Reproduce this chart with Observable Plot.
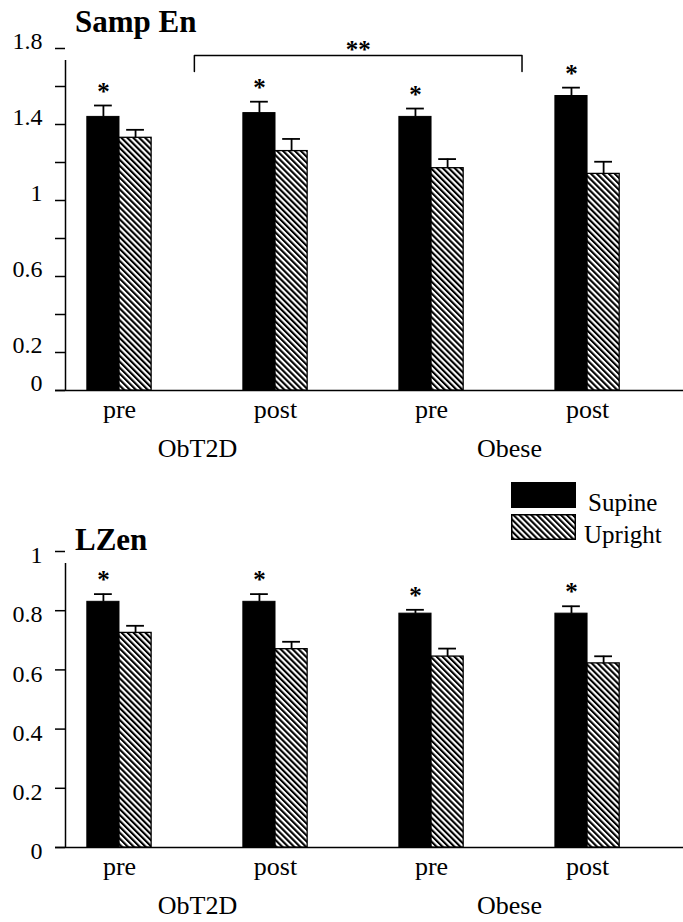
<!DOCTYPE html>
<html>
<head>
<meta charset="utf-8">
<script src="https://cdn.jsdelivr.net/npm/d3@7"></script>
<script src="https://cdn.jsdelivr.net/npm/@observablehq/plot@0.6"></script>
<style>
  body { margin: 0; background: #fff; }
  #wrap { position: relative; width: 683px; height: 922px; overflow: hidden;
          font-family: "Liberation Serif", "Times New Roman", serif; color: #000; }
  #wrap svg, #wrap svg text { font-family: "Liberation Serif", "Times New Roman", serif; }
  .panel { position: absolute; left: 0; }
  .title { position: absolute; font-weight: bold; font-size: 31px; line-height: 31px; white-space: nowrap; }
  .legtext { position: absolute; font-size: 25px; line-height: 25px; white-space: nowrap; }
  .legsw { position: absolute; }
</style>
</head>
<body>
<div id="wrap"></div>
<script>
// ---------- data ----------
const periods = ["pre", "post", "pre", "post"];
const periodGroup = ["ObT2D", "ObT2D", "Obese", "Obese"];
const groups = ["ObT2D", "Obese"];
const series = ["Supine", "Upright"];

// Samp En
const sampEnSupine = [1.44, 1.46, 1.44, 1.55];
const sampEnSupineErr = [0.06, 0.06, 0.044, 0.044];
const sampEnUpright = [1.33, 1.26, 1.17, 1.14];
const sampEnUprightErr = [0.042, 0.064, 0.048, 0.064];
const sampEnSig = ["*", "*", "*", "*"];
const sampEnTicks = [0, 0.2, 0.4, 0.6, 0.8, 1, 1.2, 1.4, 1.6, 1.8];
const sampEnTickLabels = [0, 0.2, 0.6, 1, 1.4, 1.8];
const sampEnBracket = [{from: 0.48, to: 2.58, top: 1.763, foot: 1.679, label: "**"}];

// LZen
const lzenSupine = [0.83, 0.83, 0.79, 0.79];
const lzenSupineErr = [0.026, 0.026, 0.013, 0.025];
const lzenUpright = [0.725, 0.67, 0.645, 0.622];
const lzenUprightErr = [0.024, 0.025, 0.027, 0.024];
const lzenSig = ["*", "*", "*", "*"];
const lzenTicks = [0, 0.2, 0.4, 0.6, 0.8, 1];
const lzenTickLabels = [0, 0.2, 0.4, 0.6, 0.8, 1];

// ---------- layout constants ----------
const W = 683;
const HW = 0.206;      // bar width in group units
const CAP = 0.057;     // half cap width
const xDomain = [-0.346, 3.615];
const FONT = "'Liberation Serif', 'Times New Roman', serif";

function hatchDefs(id) {
  const ns = "http://www.w3.org/2000/svg";
  const defs = document.createElementNS(ns, "defs");
  const pat = document.createElementNS(ns, "pattern");
  pat.setAttribute("id", id);
  pat.setAttribute("patternUnits", "userSpaceOnUse");
  pat.setAttribute("width", "4.2");
  pat.setAttribute("height", "4.2");
  pat.setAttribute("patternTransform", "rotate(-45)");
  const bg = document.createElementNS(ns, "rect");
  bg.setAttribute("width", "4.2"); bg.setAttribute("height", "4.2"); bg.setAttribute("fill", "#fff");
  const st = document.createElementNS(ns, "rect");
  st.setAttribute("width", "2.1"); st.setAttribute("height", "4.2"); st.setAttribute("fill", "#000");
  pat.appendChild(bg); pat.appendChild(st);
  defs.appendChild(pat);
  return defs;
}

function makeChart(cfg) {
  const rows = [];
  periods.forEach((p, i) => {
    rows.push({i, series: "Supine", value: cfg.supine[i], err: cfg.supineErr[i], sig: cfg.sig[i]});
    rows.push({i, series: "Upright", value: cfg.upright[i], err: cfg.uprightErr[i], sig: ""});
  });
  const sup = rows.filter(d => d.series === "Supine");
  const upr = rows.filter(d => d.series === "Upright");
  const cx = d => d.i + (d.series === "Supine" ? -HW / 2 : HW / 2);
  const yMax = cfg.yDomain[1];
  const txt = {fill: "#000", fontFamily: FONT};

  const marks = [
    // axis lines
    Plot.ruleX([xDomain[0]], {y1: 0, y2: yMax, insetBottom: -12, stroke: "#000", strokeWidth: 1.5}),
    Plot.ruleY([0], {insetLeft: -10, stroke: "#000", strokeWidth: 1.5}),
    Plot.axisY({ticks: cfg.ticks, tickSize: 10, tickFormat: () => "", stroke: "#000", strokeWidth: 1.5}),
    Plot.text(cfg.tickLabels, {x: xDomain[0], y: d => d, text: d => String(d), textAnchor: "end",
      dx: -23, dy: cfg.labelDy, fontSize: 24, ...txt}),
    // bars
    Plot.rectY(sup, {x1: d => d.i - HW, x2: d => d.i, y1: 0, y2: "value", fill: "#000", stroke: "#000", strokeWidth: 1}),
    Plot.rectY(upr, {x1: d => d.i, x2: d => d.i + HW, y1: 0, y2: "value", fill: `url(#${cfg.pid})`, stroke: "#000", strokeWidth: 1.3}),
    // error bars
    Plot.ruleX(rows, {x: cx, y1: "value", y2: d => d.value + d.err, stroke: "#000", strokeWidth: 1.8}),
    Plot.ruleY(rows, {y: d => d.value + d.err, x1: d => cx(d) - CAP, x2: d => cx(d) + CAP, stroke: "#000", strokeWidth: 1.8}),
    // significance
    Plot.text(sup, {x: cx, y: d => d.value + d.err, text: "sig", dy: -14, fontSize: 25, fontWeight: "bold", ...txt}),
    // x labels
    Plot.text(periods, {x: (d, i) => i, text: d => d, frameAnchor: "bottom", lineAnchor: "bottom", dy: 27, fontSize: 26, ...txt}),
    Plot.text(groups, {x: g => d3.mean(periods.map((p, i) => i).filter(i => periodGroup[i] === g)),
      text: d => d, frameAnchor: "bottom", lineAnchor: "bottom", dy: 66, fontSize: 26, ...txt})
  ];
  if (cfg.bracket) {
    const pts = cfg.bracket.flatMap(b => [
      {x: b.from, y: b.foot}, {x: b.from, y: b.top}, {x: b.to, y: b.top}, {x: b.to, y: b.foot}
    ]);
    marks.push(Plot.line(pts, {x: "x", y: "y", stroke: "#000", strokeWidth: 1.5, curve: "linear"}));
    marks.push(Plot.text(cfg.bracket, {x: b => (b.from + b.to) / 2, y: "top", text: "label", dy: -6, fontSize: 25, fontWeight: "bold", ...txt}));
  }

  const svg = Plot.plot({
    width: W,
    height: cfg.height,
    marginLeft: 65,
    marginRight: 0,
    marginTop: cfg.marginTop,
    marginBottom: cfg.marginBottom,
    x: {type: "linear", domain: xDomain, axis: null},
    y: {domain: cfg.yDomain, label: null},
    marks
  });
  svg.style.fontFamily = FONT;
  svg.style.background = "#fff";
  svg.style.overflow = "visible";
  svg.insertBefore(hatchDefs(cfg.pid), svg.firstChild);
  return svg;
}

const wrap = document.getElementById("wrap");

function addPanel(svg, top) {
  const div = document.createElement("div");
  div.className = "panel";
  div.style.top = top + "px";
  div.appendChild(svg);
  wrap.appendChild(div);
}
function addTitle(text, left, top) {
  const t = document.createElement("div");
  t.className = "title";
  t.style.left = left + "px";
  t.style.top = top + "px";
  t.textContent = text;
  wrap.appendChild(t);
}

addPanel(makeChart({
  pid: "hatchA", supine: sampEnSupine, supineErr: sampEnSupineErr,
  upright: sampEnUpright, uprightErr: sampEnUprightErr, sig: sampEnSig,
  yDomain: [0, 1.8], ticks: sampEnTicks, tickLabels: sampEnTickLabels, labelDy: -7.5,
  height: 465, marginTop: 48, marginBottom: 75, bracket: sampEnBracket
}), 0);

addPanel(makeChart({
  pid: "hatchB", supine: lzenSupine, supineErr: lzenSupineErr,
  upright: lzenUpright, uprightErr: lzenUprightErr, sig: lzenSig,
  yDomain: [0, 1], ticks: lzenTicks, tickLabels: lzenTickLabels, labelDy: 4,
  height: 457, marginTop: 86, marginBottom: 75, bracket: null
}), 465);

addTitle("Samp En", 75, 6);
addTitle("LZen", 75, 524);

// legend
const legFills = ["#000", "url(#hatchLeg)"];
const legTops = [482, 514];
const ns = "http://www.w3.org/2000/svg";
series.forEach((s, k) => {
  const sw = document.createElementNS(ns, "svg");
  sw.setAttribute("width", "66");
  sw.setAttribute("height", "27");
  sw.setAttribute("class", "legsw");
  sw.style.left = "511px";
  sw.style.top = legTops[k] + "px";
  if (k === 1) sw.appendChild(hatchDefs("hatchLeg"));
  const r = document.createElementNS(ns, "rect");
  r.setAttribute("x", "0.75"); r.setAttribute("y", "0.75");
  r.setAttribute("width", "63.5"); r.setAttribute("height", "24.5");
  r.setAttribute("fill", legFills[k]); r.setAttribute("stroke", "#000"); r.setAttribute("stroke-width", "1.5");
  sw.appendChild(r);
  wrap.appendChild(sw);
  const t = document.createElement("div");
  t.className = "legtext";
  t.style.left = (k === 0 ? 588 : 584) + "px";
  t.style.top = (legTops[k] + 8) + "px";
  t.textContent = s;
  wrap.appendChild(t);
});
</script>
</body>
</html>
